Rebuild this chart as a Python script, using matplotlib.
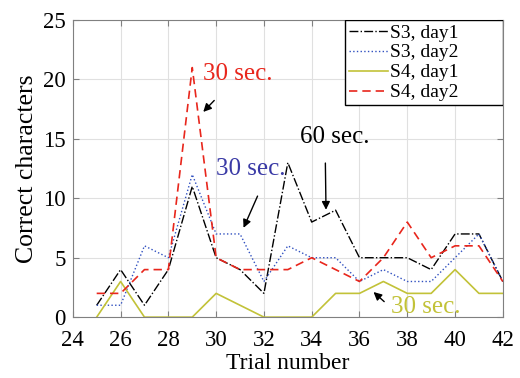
import matplotlib.pyplot as plt
from matplotlib.patches import Rectangle

plt.rcParams["font.family"] = ["Liberation Serif", "DejaVu Serif"]

trials = list(range(25, 43))
s3_day1 = [1, 4, 1, 4, 11, 5, 4, 2, 13, 8, 9, 5, 5, 5, 4, 7, 7, 3]
s3_day2 = [1, 1, 6, 5, 12, 7, 7, 3, 6, 5, 5, 3, 4, 3, 3, 5, 7, 3]
s4_day1 = [0, 3, 0, 0, 0, 2, 1, 0, 0, 0, 2, 2, 3, 2, 2, 4, 2, 2]
s4_day2 = [2, 2, 4, 4, 21, 5, 4, 4, 4, 5, 4, 3, 5, 8, 5, 6, 6, 3]

RED = "#e8261c"
BLUE = "#3a3aa6"
YEL = "#c2c238"

fig = plt.figure(figsize=(5.2, 3.78), dpi=100)
ax = fig.add_axes([0.140, 0.161, 0.827, 0.786])

ax.plot(trials, s3_day1, color="black", linestyle="-.", linewidth=1.0, label="S3, day1")
ax.plot(trials, s3_day2, color="#3050c0", linestyle=":", linewidth=1.0, label="S3, day2")
ax.plot(trials, s4_day1, color=YEL, linestyle="-", linewidth=1.2, label="S4, day1")
ax.plot(trials, s4_day2, color=RED, linestyle=(0, (5, 3)), linewidth=1.2, label="S4, day2")

ax.set_xlim(24, 42)
ax.set_ylim(0, 25)
ax.set_xticks(range(24, 43, 2))
ax.set_yticks(range(0, 26, 5))
ax.grid(True, color="#e0e0e0", linewidth=0.8)
ax.tick_params(direction="in", top=True, right=True, labelsize=16.5, colors="#808080",
               labelcolor="black", length=4)
ax.tick_params(axis="x", pad=9)
ax.tick_params(axis="y", pad=5)
for s in ax.spines.values():
    s.set_color("#808080")
ax.set_xlabel("Trial number", fontsize=17, labelpad=2)
ax.set_ylabel("Correct characters", fontsize=18.5, labelpad=4)

# legend frame drawn separately (wider than its contents, as in the original)
ax.add_patch(Rectangle((0.633, 0.714), 0.367, 0.286, transform=ax.transAxes,
                       facecolor="white", edgecolor="black", linewidth=1.0, zorder=4))
leg = ax.legend(loc="upper left", bbox_to_anchor=(0.633, 1.0), fontsize=14,
                frameon=False, borderaxespad=0, handlelength=2.0,
                borderpad=0.2, labelspacing=0.12, handletextpad=0.1)
leg.set_zorder(5)

arrow = dict(arrowstyle="-|>", color="black", lw=1.0, mutation_scale=12)
ax.text(29.44, 20.5, "30 sec.", color=RED, fontsize=18, va="center")
ax.annotate("", xy=(29.38, 17.1), xytext=(30.0, 18.4), arrowprops=arrow)
ax.text(33.5, 15.2, "60 sec.", color="black", fontsize=18, va="center")
ax.annotate("", xy=(34.6, 8.8), xytext=(34.57, 13.2), arrowprops=arrow)
ax.text(30.0, 12.5, "30 sec.", color=BLUE, fontsize=18, va="center")
ax.annotate("", xy=(31.1, 7.3), xytext=(31.78, 10.4), arrowprops=arrow)
ax.text(37.33, 0.87, "30 sec.", color=YEL, fontsize=18, va="center")
ax.annotate("", xy=(36.5, 2.27), xytext=(37.12, 1.15), arrowprops=arrow)

fig.savefig("out.png", dpi=100)
